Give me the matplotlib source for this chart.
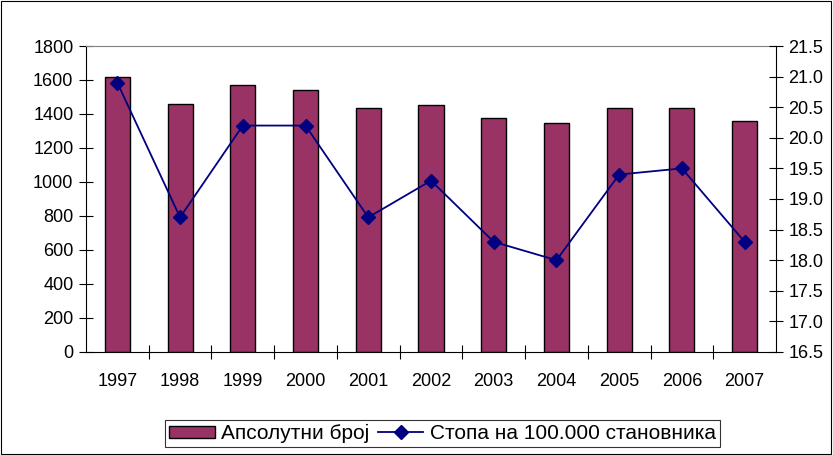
import matplotlib.pyplot as plt
import matplotlib.patches as mpatches
from matplotlib.lines import Line2D

plt.rcParams['font.family'] = ['Liberation Sans', 'DejaVu Sans']

years = ['1997', '1998', '1999', '2000', '2001', '2002', '2003', '2004', '2005', '2006', '2007']
absolute = [1620, 1460, 1570, 1540, 1435, 1450, 1375, 1345, 1435, 1435, 1358]
rate = [20.9, 18.7, 20.2, 20.2, 18.7, 19.3, 18.3, 18.0, 19.4, 19.5, 18.3]

bar_color = '#993366'
line_color = '#000080'

fig = plt.figure(figsize=(8.33, 4.55), dpi=100)
# outer border of the chart
fig.patches.append(mpatches.Rectangle((0.001, 0.002), 0.997, 0.996, transform=fig.transFigure,
                                      fill=False, edgecolor='black', linewidth=0.8))

ax = fig.add_axes([0.1032, 0.2264, 0.8284, 0.6725])
x = list(range(len(years)))
ax.bar(x, absolute, width=0.4, color=bar_color, edgecolor='black', linewidth=1.0, zorder=2)
ax.set_xlim(-0.5, len(years) - 0.5)
ax.set_ylim(0, 1800)
ax.set_yticks(range(0, 1801, 200))
ax.set_xticks(x)
ax.set_xticklabels(years)
ax.set_xticks([i + 0.5 for i in x[:-1]], minor=True)
ax.tick_params(axis='x', which='major', length=0, pad=15, labelsize=13)
ax.tick_params(axis='x', which='minor', length=10, direction='inout', width=0.8)
ax.tick_params(axis='y', length=10, direction='inout', width=0.8, labelsize=13, pad=4)
ax.spines['top'].set_color('#808080')
ax.spines['right'].set_visible(False)

ax2 = ax.twinx()
ax2.plot(x, rate, color=line_color, linewidth=1.3, marker='D', markersize=7.5, zorder=3)
ax2.set_ylim(16.5, 21.5)
ax2.set_yticks([16.5 + 0.5 * i for i in range(11)])
ax2.set_yticklabels([f'{16.5 + 0.5 * i:.1f}' for i in range(11)])
ax2.tick_params(axis='y', length=10, direction='inout', width=0.8, labelsize=13, pad=4)
ax2.spines['top'].set_visible(False)
ax2.spines['left'].set_visible(False)
ax2.spines['bottom'].set_visible(False)

handles = [mpatches.Rectangle((0, 0), 1, 1, facecolor=bar_color, edgecolor='black'),
           Line2D([], [], color=line_color, marker='D', markersize=7, linewidth=1.3)]
labels = ['Апсолутни број', 'Стопа на 100.000 становника']
leg = fig.legend(handles, labels, loc='center', bbox_to_anchor=(0.531, 0.047), ncol=2,
                 fontsize=15, frameon=True, fancybox=False, edgecolor='black',
                 handlelength=2.2, handleheight=0.5, handletextpad=0.3,
                 columnspacing=0.4, borderpad=0.2, borderaxespad=0)
leg.get_frame().set_linewidth(0.8)

fig.savefig('out.png', dpi=100)
